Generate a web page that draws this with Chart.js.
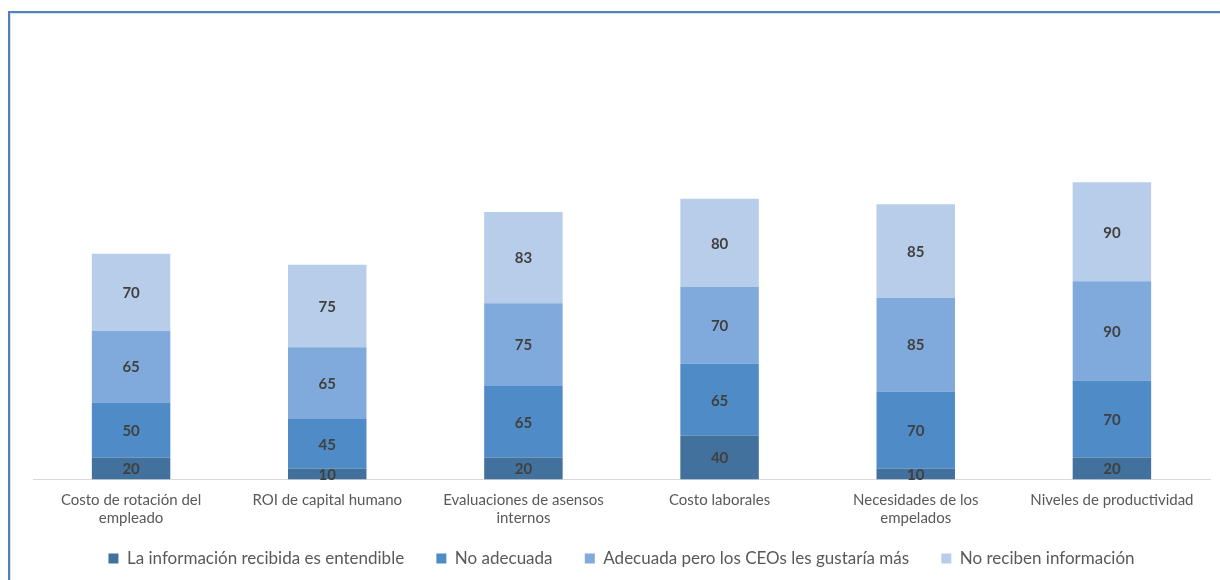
<!DOCTYPE html>
<html>
<head>
<meta charset="utf-8">
<script src="https://cdn.jsdelivr.net/npm/chart.js@4"></script>
<style>
  html, body { margin: 0; padding: 0; background: #fff; }
  #wrap { position: relative; width: 1220px; height: 580px; }
  #marco {
    position: absolute; left: 8px; top: 11px; right: -4px; bottom: -4px;
    border-top: 2px solid #4f81bd; border-left: 2px solid #4f81bd;
    box-shadow: inset 1px 1px 1px #d8dde4;
    pointer-events: none;
  }
</style>
</head>
<body>
<div id="wrap">
  <canvas id="grafico" width="1220" height="580"></canvas>
  <div id="marco"></div>
</div>
<script>
// categorias y series
const categorias = [
    ['Costo de rotación del', 'empleado'],
    'ROI de capital humano',
    ['Evaluaciones de asensos', 'internos'],
    'Costo laborales',
    ['Necesidades de los', 'empelados'],
    'Niveles de productividad'
];
const entendible = [20, 10, 20, 40, 10, 20];
const noAdecuada = [50, 45, 65, 65, 70, 70];
const adecuadaMas = [65, 65, 75, 70, 85, 90];
const noReciben = [70, 75, 83, 80, 85, 90];

const nombresSeries = [
    'La información recibida es entendible',
    'No adecuada',
    'Adecuada pero los CEOs les gustaría más',
    'No reciben información'
];
const colores = ['#41719c', '#4e8bc7', '#80aadb', '#b8cde9'];

// etiquetas de valor dentro de cada segmento
const etiquetasValor = {
    id: 'etiquetasValor',
    afterDatasetsDraw(chart) {
        const c = chart.ctx;
        c.save();
        c.font = 'bold 15px Lato, "Open Sans", sans-serif';
        c.fillStyle = '#404040';
        c.textAlign = 'center';
        c.textBaseline = 'middle';
        chart.data.datasets.forEach((ds, i) => {
            const meta = chart.getDatasetMeta(i);
            meta.data.forEach((bar, j) => {
                const p = bar.getCenterPoint();
                c.fillText(ds.data[j], p.x, p.y + 1);
            });
        });
        c.restore();
    }
};

const series = [entendible, noAdecuada, adecuadaMas, noReciben];

new Chart(document.getElementById('grafico').getContext('2d'), {
    type: 'bar',
    data: {
        labels: categorias,
        datasets: series.map((d, i) => ({
            label: nombresSeries[i],
            data: d,
            backgroundColor: colores[i],
            borderWidth: 0,
            categoryPercentage: 1,
            barPercentage: 0.4
        }))
    },
    options: {
        responsive: false,
        animation: false,
        layout: { padding: { left: 33, right: 10, top: 39, bottom: 3 } },
        scales: {
            x: {
                stacked: true,
                grid: { display: false, drawTicks: false },
                border: { display: true, color: '#d9d9d9', width: 1 },
                ticks: {
                    color: '#595959',
                    font: { family: 'Lato, "Open Sans", sans-serif', size: 15, lineHeight: 1.25 },
                    padding: 11,
                    maxRotation: 0,
                    autoSkip: false
                }
            },
            y: {
                stacked: true,
                display: false,
                min: 0,
                max: 400
            }
        },
        plugins: {
            legend: {
                position: 'bottom',
                labels: {
                    boxWidth: 10,
                    boxHeight: 10,
                    padding: 11,
                    color: '#595959',
                    font: { family: 'Lato, "Open Sans", sans-serif', size: 17 },
                    // espacio extra entre elementos de la leyenda
                    generateLabels(chart) {
                        const items = Chart.defaults.plugins.legend.labels.generateLabels(chart);
                        return items.map((it, i) => {
                            if (i < items.length - 1) it.text = it.text + '\u2003\u2002';
                            return it;
                        });
                    }
                }
            },
            tooltip: { enabled: false },
            title: { display: false }
        }
    },
    plugins: [etiquetasValor]
});
</script>
</body>
</html>
